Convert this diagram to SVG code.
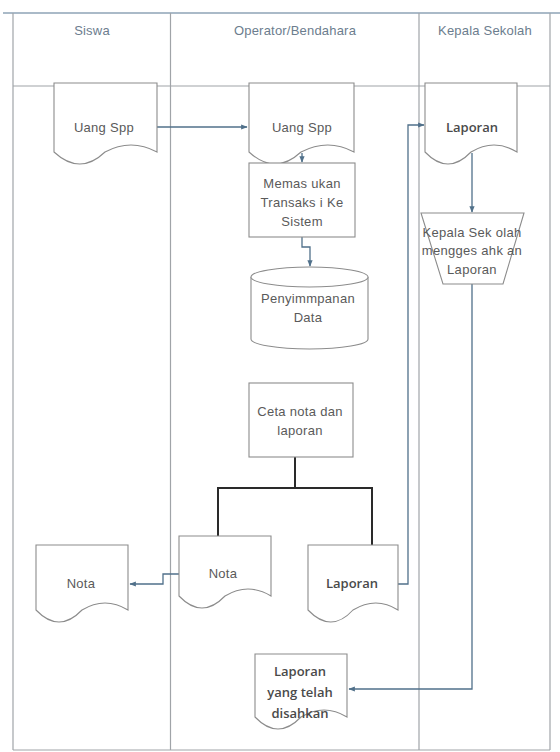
<svg xmlns="http://www.w3.org/2000/svg" width="560" height="752" viewBox="0 0 560 752">
<style>
.lane{fill:none;stroke:#a0a4a8;stroke-width:1.2}
.top{fill:none;stroke:#8ea3b6;stroke-width:1.5}
.hdr{font-family:"Liberation Sans",Arial,sans-serif;font-size:13px;letter-spacing:0.2px;fill:#6c7d8e;text-anchor:middle}
.shape{fill:#fff;stroke:#8c8c8c;stroke-width:1.1}
.t{font-family:"Liberation Sans",Arial,sans-serif;font-size:13px;letter-spacing:0.3px;fill:#5a5a5a;text-anchor:middle}
.b{font-family:"Open Sans","Liberation Sans",sans-serif;font-size:13px;font-weight:600;fill:#4a4a4a;text-anchor:middle}
.c{fill:none;stroke:#50708a;stroke-width:1.3}
.k{fill:none;stroke:#2a2a2a;stroke-width:2}
</style>
<defs>
<marker id="ah" viewBox="0 0 10 10" refX="9" refY="5" markerWidth="5" markerHeight="5" orient="auto">
<path d="M0,1 L10,5 L0,9 Z" fill="#50708a"/>
</marker>
</defs>
<rect width="560" height="752" fill="#fff"/>
<g id="lanes">
<line class="top" x1="3" y1="13" x2="560" y2="13"/>
<line class="lane" x1="13" y1="13" x2="13" y2="750"/>
<line class="lane" x1="170.5" y1="13" x2="170.5" y2="750"/>
<line class="lane" x1="419" y1="13" x2="419" y2="750"/>
<line class="lane" x1="550" y1="13" x2="550" y2="750"/>
<line class="lane" x1="13" y1="86" x2="550" y2="86"/>
<line class="lane" x1="13" y1="750" x2="550" y2="750"/>
<text class="hdr" x="92" y="35">Siswa</text>
<text class="hdr" x="295" y="35">Operator/Bendahara</text>
<text class="hdr" x="485" y="35">Kepala Sekolah</text>
</g>
<g id="connectors">
<path class="c" d="M157,127 H247" marker-end="url(#ah)"/>
<path class="c" d="M302,153 V162" marker-end="url(#ah)"/>
<path class="c" d="M302,237 V247 H310 V266" marker-end="url(#ah)"/>
<path class="c" d="M398,584 H408 V125 H424" marker-end="url(#ah)"/>
<path class="c" d="M472,153 V212" marker-end="url(#ah)"/>
<path class="c" d="M472,284 V689 H349" marker-end="url(#ah)"/>
<path class="c" d="M179,574 H163 V584 H130" marker-end="url(#ah)"/>
<path class="k" d="M295,457 V488 M218,488 H372 M218,487 V536 M372,487 V545"/>
</g>
<g id="siswa-uang-spp">
<path class="shape" d="M54,83 H157 V152 Q131,138 105,152 Q80,176 54,152 Z"/>
<text class="t" x="104" y="132">Uang Spp</text>
</g>
<g id="op-uang-spp">
<path class="shape" d="M249,83 H354 V152 Q328,138 301,152 Q275,176 249,152 Z"/>
<text class="t" x="302" y="132">Uang Spp</text>
</g>
<g id="kepala-laporan">
<path class="shape" d="M425,83 H517 V152 Q494,138 471,152 Q448,176 425,152 Z"/>
<text class="b" x="472" y="132">Laporan</text>
</g>
<g id="memasukan">
<rect class="shape" x="249" y="163" width="106" height="74"/>
<text class="t" x="302" y="188">Memas ukan</text>
<text class="t" x="302" y="207">Transaks i Ke</text>
<text class="t" x="302" y="226">Sistem</text>
</g>
<g id="penyimpanan">
<path class="shape" d="M251,277 V339 A58.5,10 0 0 0 368,339 V277"/>
<ellipse class="shape" cx="309.5" cy="277" rx="58.5" ry="10"/>
<text class="t" x="308" y="303">Penyimmpanan</text>
<text class="t" x="308" y="322">Data</text>
</g>
<g id="kepala-mengesahkan">
<path class="shape" d="M421,213 H524 L503,284 H443 Z"/>
<text class="t" x="472" y="237">Kepala Sek olah</text>
<text class="t" x="472" y="255">mengges ahk an</text>
<text class="t" x="472" y="274">Laporan</text>
</g>
<g id="ceta">
<rect class="shape" x="249" y="383" width="104" height="74"/>
<text class="t" x="300" y="416">Ceta nota dan</text>
<text class="t" x="300" y="435">laporan</text>
</g>
<g id="op-nota">
<path class="shape" d="M179,536 H271 V596 Q248,582 225,596 Q202,620 179,596 Z"/>
<text class="t" x="223" y="578">Nota</text>
</g>
<g id="op-laporan">
<path class="shape" d="M308,545 H398 V610 Q376,596 353,610 Q331,634 308,610 Z"/>
<text class="b" x="352" y="588">Laporan</text>
</g>
<g id="siswa-nota">
<path class="shape" d="M36,545 H128 V610 Q105,596 82,610 Q59,634 36,610 Z"/>
<text class="t" x="81" y="588">Nota</text>
</g>
<g id="laporan-disahkan">
<path class="shape" d="M255,654 H347 V717 Q324,703 301,717 Q278,741 255,717 Z"/>
<text class="b" x="300" y="676">Laporan</text>
<text class="b" x="300" y="697">yang telah</text>
<text class="b" x="300" y="718">disahkan</text>
</g>
</svg>
